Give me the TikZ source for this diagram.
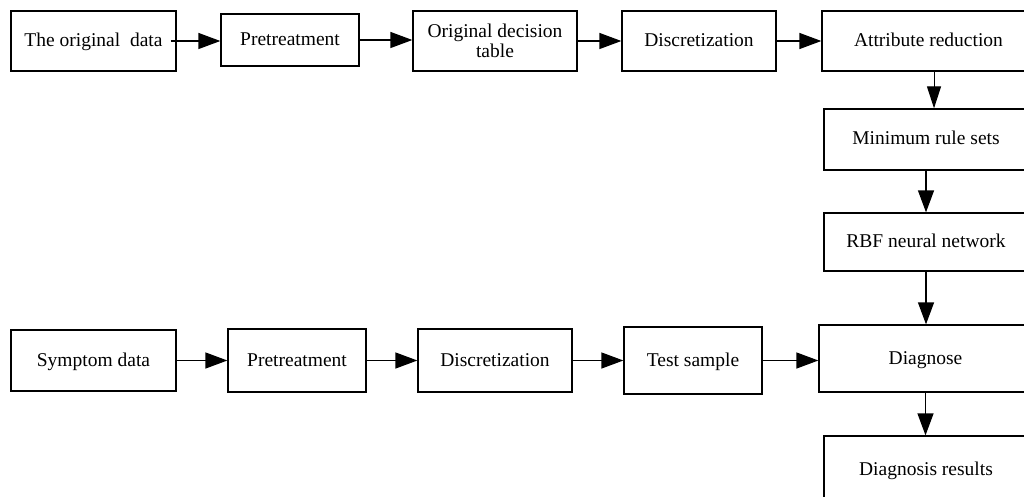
\documentclass[tikz,border=0pt]{standalone}
\usepackage{fontspec}
\setmainfont{Liberation Serif}
\usetikzlibrary{arrows.meta}
\begin{document}
\begin{tikzpicture}[x=1pt,y=-1pt,
  box/.style={draw=black,line width=1.3pt,inner sep=0pt,align=center,
    font=\fontsize{19.5}{20.5}\selectfont},
  one/.style={box,text height=14pt,text depth=3pt},
  arr/.style={line width=1.3pt,-{Triangle[length=22pt,width=16pt]}}]
\useasboundingbox (0,0) rectangle (1024,497);
% top row
\node[one,minimum width=165pt,minimum height=60pt] (A) at (93.5,41) {The original\ \ data};
\node[one,minimum width=138pt,minimum height=52pt] (B) at (290,40) {Pretreatment};
\node[box,minimum width=164pt,minimum height=60pt] (C) at (495,41) {Original decision\\table};
\node[one,minimum width=154pt,minimum height=60pt] (D) at (699,41) {Discretization};
\node[one,minimum width=213pt,minimum height=60pt] (E) at (928.5,41) {Attribute reduction};
% right column
\node[one,minimum width=204pt,minimum height=61pt] (F) at (926,139.5) {Minimum rule sets};
\node[one,minimum width=204pt,minimum height=58pt] (G) at (926,242) {RBF neural network};
\node[one,minimum width=213pt,minimum height=67pt] (H) at (925.5,358.5) {Diagnose};
\node[one,minimum width=204pt,minimum height=68pt] (I) at (926,470) {Diagnosis results};
% bottom row
\node[one,minimum width=165pt,minimum height=61pt] (J) at (93.5,360.5) {Symptom data};
\node[one,minimum width=138pt,minimum height=63pt] (K) at (297,360.5) {Pretreatment};
\node[one,minimum width=154pt,minimum height=63pt] (L) at (495,360.5) {Discretization};
\node[one,minimum width=138pt,minimum height=67pt] (M) at (693,360.5) {Test sample};
% connectors
\draw[arr] ([xshift=-6pt]A.east) -- (A.east -| B.west);
\draw[arr] (B.east) -- (B.east -| C.west);
\draw[arr] (C.east) -- (D.west);
\draw[arr] (D.east) -- (E.west);
\draw[line width=1pt,-{Triangle[length=22pt,width=14pt]}] ([xshift=5.5pt]E.south) -- ([xshift=8pt]F.north);
\draw[arr] (F.south) -- (G.north);
\draw[arr] (G.south) -- (G.south |- H.north);
\draw[arr] (H.south) -- (H.south |- I.north);
\draw[arr] (J.east) -- (J.east -| K.west);
\draw[arr] (K.east) -- (L.west);
\draw[arr] (L.east) -- (L.east -| M.west);
\draw[arr] (M.east) -- (M.east -| H.west);
\end{tikzpicture}
\end{document}
